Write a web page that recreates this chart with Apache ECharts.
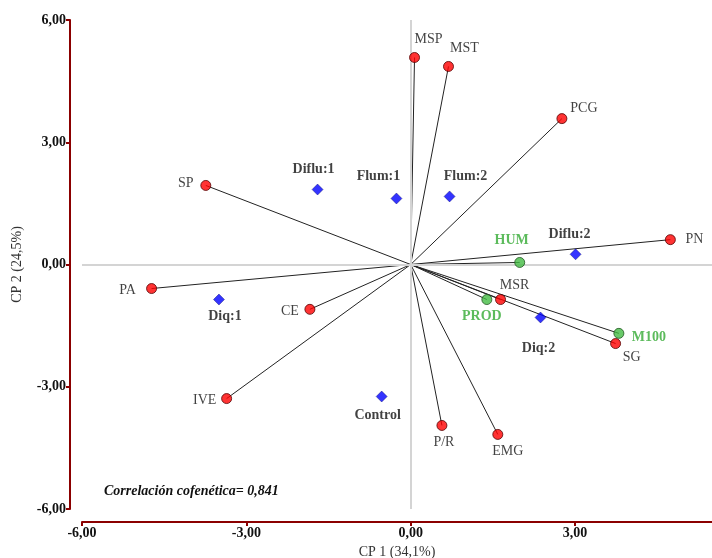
<!DOCTYPE html>
<html><head><meta charset="utf-8">
<script src="https://cdn.jsdelivr.net/npm/echarts@6/dist/echarts.min.js"></script>
<style>html,body{margin:0;padding:0;background:#fff}#c{width:712px;height:558px}</style>
</head><body><div id="c"></div>
<script>
// Variables (red) with vectors
const varNames = ['MSP','MST','PCG','SP','PN','PA','CE','MSR','SG','IVE','P/R','EMG'];
const varX = [0.07, 0.69, 2.76, -3.74, 4.74, -4.73, -1.84, 1.64, 3.74, -3.36, 0.57, 1.59];
const varY = [5.08, 4.86, 3.58, 1.94, 0.61, -0.59, -1.10, -0.86, -1.94, -3.29, -3.95, -4.17];
// Green variables with vectors
const greenNames = ['HUM','PROD','M100'];
const greenX = [1.99, 1.39, 3.80];
const greenY = [0.05, -0.86, -1.69];
// Treatments (blue diamonds)
const trtNames = ['Diflu:1','Flum:1','Flum:2','Diflu:2','Diq:1','Diq:2','Control'];
const trtX = [-1.70, -0.26, 0.71, 3.01, -3.50, 2.37, -0.53];
const trtY = [1.84, 1.62, 1.67, 0.25, -0.86, -1.30, -3.24];
const xTicks = [-6, -3, 0, 3];
const yTicks = [-6, -3, 0, 3, 6];
const note = 'Correlación cofenética= 0,841';

// label offsets (styling)
const varLabelOff = {
  'MSP':[14,-18],'MST':[16,-18],'PCG':[22,-10],'SP':[-20,-2],'PN':[24,0],'PA':[-24,2],
  'CE':[-20,2],'MSR':[14,-14],'SG':[16,14],'IVE':[-22,2],'P/R':[2,17],'EMG':[10,17]
};
const greenLabelOff = {'HUM':[-8,-22],'PROD':[-5,17],'M100':[30,4]};
const trtLabelOff = {'Diflu:1':[-4,-20],'Flum:1':[-18,-22],'Flum:2':[16,-20],'Diflu:2':[-6,-20],
  'Diq:1':[6,17],'Diq:2':[-2,31],'Control':[-4,19]};

const serif = '"Liberation Serif","Times New Roman",serif';
const fmt = v => v.toFixed(2).replace('.', ',');

const vecData = [];
varNames.forEach((n,i)=>vecData.push({coords:[[0,0],[varX[i],varY[i]]]}));
greenNames.forEach((n,i)=>vecData.push({coords:[[0,0],[greenX[i],greenY[i]]]}));

function mk(names, xs, ys, offs){
  return names.map((n,i)=>({name:n, value:[xs[i],ys[i]], label:{offset:offs[n]}}));
}

const chart = echarts.init(document.getElementById('c'));
chart.setOption({
  animation:false,
  grid:{left:82,right:0,top:20,bottom:49,containLabel:false,outerBoundsMode:'none'},
  xAxis:{type:'value',min:-6,max:5.5,offset:13,
    name:'CP 1 (34,1%)',nameLocation:'middle',nameGap:23,
    nameTextStyle:{fontFamily:serif,fontSize:14,color:'#333'},
    axisLine:{onZero:false,lineStyle:{color:'#8b0000',width:2}},
    axisTick:{show:true,length:4,customValues:xTicks,lineStyle:{color:'#8b0000',width:2}},
    axisLabel:{customValues:xTicks,formatter:fmt,fontFamily:serif,fontWeight:'bold',fontSize:14,color:'#111',margin:4},
    splitLine:{show:false}},
  yAxis:{type:'value',min:-6,max:6,offset:12,
    name:'CP 2 (24,5%)',nameLocation:'middle',nameGap:46,nameRotate:90,
    nameTextStyle:{fontFamily:serif,fontSize:14,color:'#333'},
    axisLine:{onZero:false,lineStyle:{color:'#8b0000',width:2}},
    axisTick:{show:true,length:4,customValues:yTicks,lineStyle:{color:'#8b0000',width:2}},
    axisLabel:{customValues:yTicks,formatter:fmt,fontFamily:serif,fontWeight:'bold',fontSize:14,color:'#111',margin:4},
    splitLine:{show:false}},
  graphic:[{type:'text',left:104,top:484,style:{text:note,font:'italic bold 14px '+serif,fill:'#111'}}],
  series:[
    {type:'line',data:[],markLine:{silent:true,symbol:'none',label:{show:false},
      lineStyle:{color:'#d4d4d4',width:2,type:'solid'},data:[{xAxis:0},{yAxis:0}]}},
    {type:'lines',coordinateSystem:'cartesian2d',data:vecData,z:3,
      lineStyle:{color:'#222',width:1,opacity:1}},
    {type:'scatter',symbol:'circle',symbolSize:10,z:5,
      itemStyle:{color:'#ff0000',borderColor:'#550000',borderWidth:1},
      label:{show:true,formatter:'{b}',fontFamily:serif,fontSize:14,color:'#111'},
      data:mk(varNames,varX,varY,varLabelOff)},
    {type:'scatter',symbol:'circle',symbolSize:10,z:5,
      itemStyle:{color:'#44bb44',borderColor:'#225522',borderWidth:1},
      label:{show:true,formatter:'{b}',fontFamily:serif,fontSize:14,fontWeight:'bold',color:'#33aa33'},
      data:mk(greenNames,greenX,greenY,greenLabelOff)},
    {type:'scatter',symbol:'diamond',symbolSize:11,z:5,
      itemStyle:{color:'#0000ff',borderColor:'#000066',borderWidth:0.5},
      label:{show:true,formatter:'{b}',fontFamily:serif,fontSize:14,fontWeight:'bold',color:'#111'},
      data:mk(trtNames,trtX,trtY,trtLabelOff)}
  ]
});
</script></body></html>
